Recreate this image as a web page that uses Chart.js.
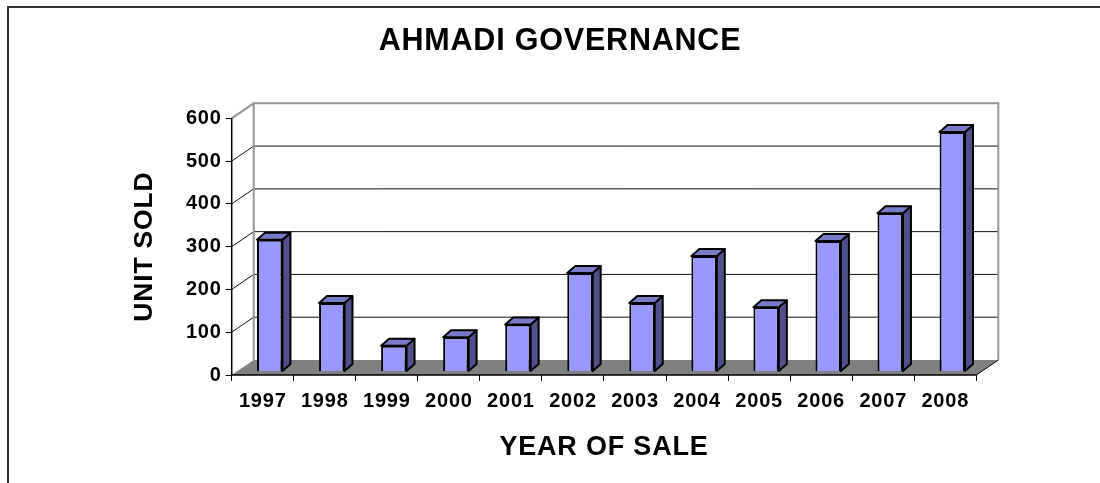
<!DOCTYPE html>
<html><head><meta charset="utf-8">
<style>html,body{margin:0;padding:0;background:#fff}#w{width:1100px;height:483px;position:relative}</style>
<script src="https://cdn.jsdelivr.net/npm/chart.js@4"></script></head>
<body><div id="w"><canvas id="c" width="1100" height="483"></canvas></div>
<script>
const categories=['1997','1998','1999','2000','2001','2002','2003','2004','2005','2006','2007','2008'];
const unitsSold=[308,160,60,80,110,230,160,270,150,305,370,560];
const chartTitle='AHMADI GOVERNANCE';
const xTitle='YEAR OF SALE';
const yTitle='UNIT SOLD';
const FONT='"Liberation Sans", Arial, sans-serif';
const wallDX=22, wallDY=-15, barDX=7, barDY=-3.5, depthDX=8, depthDY=-7;

const scene={
 id:'scene',
 afterLayout(ch){ if(ch.titleBlock){ch.titleBlock.left=20;ch.titleBlock.right=1100;} },
 beforeDraw(ch){
  const c=ch.ctx;c.save();c.fillStyle='#fff';c.fillRect(0,0,1100,483);
  c.strokeStyle='#333';c.lineWidth=2;c.beginPath();c.moveTo(8,483);c.lineTo(8,7);c.lineTo(1100,7);c.stroke();
  c.restore();
  c.letterSpacing='0.8px';
 },
 beforeDatasetsDraw(ch){
  const c=ch.ctx,a=ch.chartArea,y=ch.scales.y;
  c.save();
  c.fillStyle='#808080';c.beginPath();c.moveTo(a.left,a.bottom);c.lineTo(a.left+wallDX,a.bottom+wallDY);c.lineTo(a.right+wallDX,a.bottom+wallDY);c.lineTo(a.right,a.bottom);c.closePath();c.fill();
  c.strokeStyle='#111';c.lineWidth=1;
  y.ticks.forEach(t=>{const py=y.getPixelForValue(t.value);
    if(t.value===0)return;
    c.beginPath();c.moveTo(a.left,py);c.lineTo(a.left+wallDX,py+wallDY);
    if(t.value!==y.max)c.lineTo(a.right+wallDX,py+wallDY);
    c.stroke();});
  c.strokeStyle='#969696';c.lineWidth=2;
  c.beginPath();c.moveTo(a.left+wallDX,a.bottom+wallDY);c.lineTo(a.left+wallDX,a.top+wallDY);c.lineTo(a.right+wallDX,a.top+wallDY);c.lineTo(a.right+wallDX,a.bottom+wallDY);c.stroke();
  c.beginPath();c.moveTo(a.left,a.top);c.lineTo(a.left+wallDX,a.top+wallDY);c.stroke();
  c.strokeStyle='#000';c.lineWidth=1;
  c.beginPath();c.moveTo(a.right,a.bottom);c.lineTo(a.right+wallDX,a.bottom+wallDY);c.stroke();
  c.lineWidth=1.5;
  c.beginPath();c.moveTo(a.left,a.top);c.lineTo(a.left,a.bottom);c.lineTo(a.right,a.bottom);c.stroke();
  c.restore();
 },
 beforeDatasetDraw(ch,args){
  const c=ch.ctx,meta=args.meta;
  c.save();c.translate(barDX,barDY);
  c.lineWidth=2;c.lineJoin='round';c.strokeStyle='#000';
  meta.data.forEach(b=>{
   const w=b.width/2,l=b.x-w,r=b.x+w,t=b.y,bt=b.base;
   c.fillStyle='#50508C';c.beginPath();c.moveTo(r,t);c.lineTo(r+depthDX,t+depthDY);c.lineTo(r+depthDX,bt+depthDY);c.lineTo(r,bt);c.closePath();c.fill();c.stroke();
   c.fillStyle='#7A7AC8';c.beginPath();c.moveTo(l,t);c.lineTo(l+depthDX,t+depthDY);c.lineTo(r+depthDX,t+depthDY);c.lineTo(r,t);c.closePath();c.fill();c.stroke();
  });
 },
 afterDatasetDraw(ch){ch.ctx.restore();}
};

new Chart(document.getElementById('c'),{
 type:'bar',
 data:{labels:categories,datasets:[{data:unitsSold,backgroundColor:'#9999FF',borderColor:'#000',borderWidth:2,barPercentage:0.41,categoryPercentage:1}]},
 options:{
  responsive:false,animation:false,
  layout:{padding:{left:0,right:123.7,top:0,bottom:0}},
  plugins:{legend:{display:false},tooltip:{enabled:false},
   title:{display:true,text:chartTitle,color:'#000',font:{family:FONT,size:30.5,weight:'bold'},padding:{top:23.5,bottom:58.2}}},
  scales:{
   x:{grid:{display:true,drawOnChartArea:false,color:'#000',tickLength:6,offset:true},border:{display:false},
      ticks:{color:'#000',font:{family:FONT,size:20,weight:'bold'},maxRotation:0,autoSkip:false,padding:8},
      title:{display:true,text:xTitle,color:'#000',font:{family:FONT,size:27,weight:'bold'},padding:{top:0,bottom:19.3}},
      afterFit(s){s.height=108;}},
   y:{min:0,max:600,grid:{display:true,drawOnChartArea:false,color:'#000',tickLength:6},border:{display:false},
      ticks:{stepSize:100,color:'#000',font:{family:FONT,size:20,weight:'bold'},padding:4},
      title:{display:true,text:yTitle,color:'#000',font:{family:FONT,size:26.5,weight:'bold'},padding:{top:129,bottom:0}},
      afterFit(s){s.width=231.7;}}
  }
 },
 plugins:[scene]
});
</script></body></html>
